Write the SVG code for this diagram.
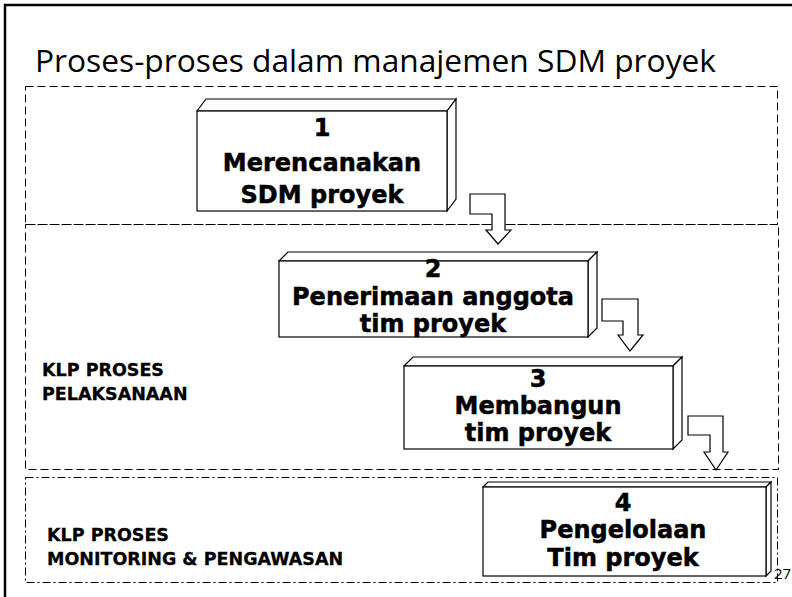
<svg xmlns="http://www.w3.org/2000/svg" width="792" height="597" viewBox="0 0 792 597">
<style>
.frame{fill:none;stroke:#000;stroke-width:2.5}
.dash{fill:none;stroke:#000;stroke-width:1;stroke-dasharray:8 4}
.dashdot{fill:none;stroke:#000;stroke-width:1;stroke-dasharray:8 3 2 3}
.face{fill:#fff;stroke:#000;stroke-width:1.2;stroke-linejoin:miter}
.arrow{fill:#fff;stroke:#000;stroke-width:1.2}
.t{font-family:"DejaVu Sans",Verdana,sans-serif;font-weight:bold;font-size:24px;text-anchor:middle;fill:#000;stroke:#000;stroke-width:0.5}
.lbl{font-family:"DejaVu Sans",Verdana,sans-serif;font-weight:bold;font-size:17.5px;fill:#000;stroke:#000;stroke-width:0.3}
.title{font-family:"Open Sans","Noto Sans",sans-serif;font-size:31px;fill:#000}
.num{font-family:"Open Sans","Noto Sans",sans-serif;font-size:15px;fill:#000}
</style>
<rect width="792" height="597" fill="#fff"/>
<rect class="frame" x="5" y="5" width="800" height="600"/>
<text class="title" x="35" y="72" textLength="681" lengthAdjust="spacingAndGlyphs">Proses-proses dalam manajemen SDM proyek</text>

<g id="groups">
<rect class="dash" x="25.5" y="86.5" width="752" height="138"/>
<rect class="dash" x="25.5" y="224.5" width="753" height="245"/>
<rect class="dashdot" x="25.5" y="477.5" width="752" height="105"/>
</g>

<g id="labels">
<text class="lbl" x="42" y="376">KLP PROSES</text>
<text class="lbl" x="42" y="400">PELAKSANAAN</text>
<text class="lbl" x="47" y="541">KLP PROSES</text>
<text class="lbl" x="47" y="565">MONITORING &amp; PENGAWASAN</text>
</g>

<g id="connectors">
<polygon class="arrow" points="470,194 505,194 505,230 511,230 498,244 486,230 492,230 492,214 470,214"/>
<polygon class="arrow" points="602,299 638,299 638,335 643,335 630,351 618,335 623,335 623,321 602,321"/>
<polygon class="arrow" points="688,416 723,416 723,452 728,452 716,470 704,452 710,452 710,435 688,435"/>
</g>

<g id="node1">
<polygon class="face" points="197,111 206,99 456,99 447,111"/>
<polygon class="face" points="447,111 456,99 456,199 447,211"/>
<rect class="face" x="197" y="111" width="250" height="100"/>
<text class="t" x="322" y="136">1</text>
<text class="t" x="322" y="171">Merencanakan</text>
<text class="t" x="322" y="203">SDM proyek</text>
</g>

<g id="node2">
<polygon class="face" points="279,261 288,252 597,252 588,261"/>
<polygon class="face" points="588,261 597,252 597,328 588,337"/>
<rect class="face" x="279" y="261" width="309" height="76"/>
<text class="t" x="433" y="277">2</text>
<text class="t" x="433" y="305">Penerimaan anggota</text>
<text class="t" x="433" y="332">tim proyek</text>
</g>

<g id="node3">
<polygon class="face" points="404,366 413,357 682,357 673,366"/>
<polygon class="face" points="673,366 682,357 682,440 673,449"/>
<rect class="face" x="404" y="366" width="269" height="83"/>
<text class="t" x="538" y="387">3</text>
<text class="t" x="538" y="414">Membangun</text>
<text class="t" x="538" y="441">tim proyek</text>
</g>

<g id="node4">
<polygon class="face" points="483,487 488,482 771,482 766,487"/>
<polygon class="face" points="766,487 771,482 771,571 766,576"/>
<rect class="face" x="483" y="487" width="283" height="89"/>
<text class="t" x="623" y="511">4</text>
<text class="t" x="623" y="538">Pengelolaan</text>
<text class="t" x="623" y="566">Tim proyek</text>
</g>

<text class="num" x="774" y="579">27</text>
</svg>
